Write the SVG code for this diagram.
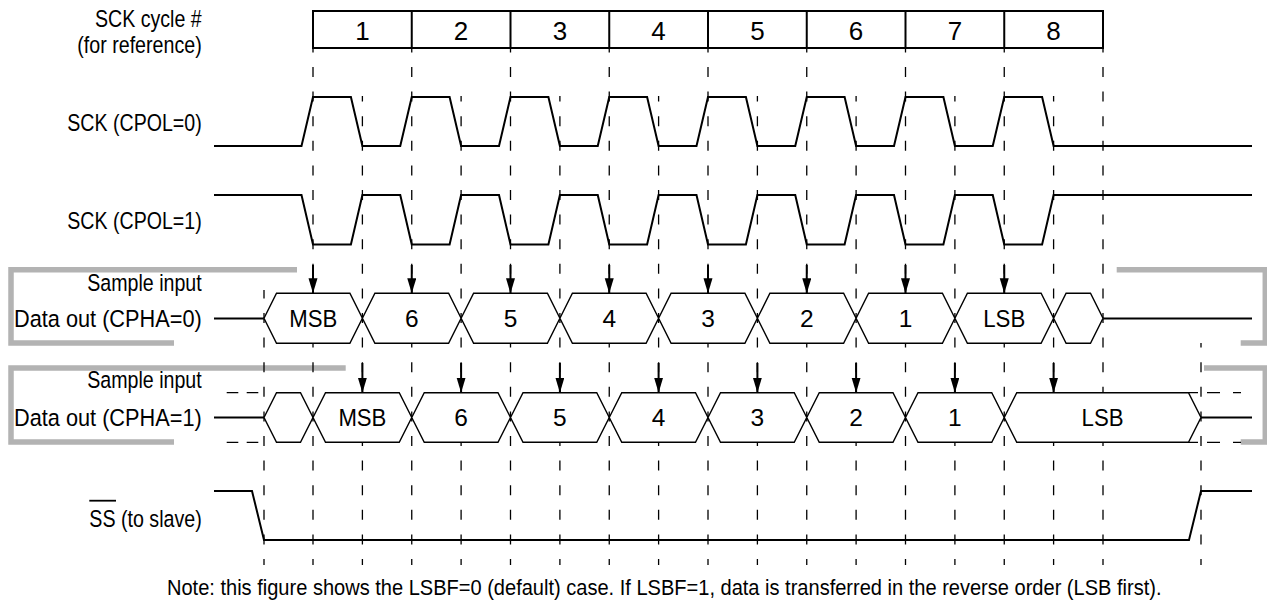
<svg xmlns="http://www.w3.org/2000/svg" width="1267" height="602" viewBox="0 0 1267 602">
<style>
text{font-family:"Liberation Sans Narrow","Liberation Sans",Arial,sans-serif;fill:#000}
.lbl{font-size:24.5px;text-anchor:end}
.num{font-size:26px;text-anchor:middle}
.dat{font-size:24.5px;text-anchor:middle}
.note{font-size:22px}
.grid{stroke:#000;stroke-width:1.3;fill:none;stroke-dasharray:10 14.6}
.hd{stroke:#000;stroke-width:1.3;fill:none}
.wave{stroke:#000;stroke-width:2;fill:none;stroke-linejoin:miter}
.hex{stroke:#000;stroke-width:1.4;fill:#fff;stroke-linejoin:miter}
.br{stroke:#b3b3b3;stroke-width:5.5;fill:none;stroke-linejoin:miter}
.arr{stroke:#000;stroke-width:2;marker-end:url(#ah)}
</style>
<defs>
<marker id="ah" markerUnits="userSpaceOnUse" markerWidth="15" markerHeight="10" refX="15" refY="4.5" orient="auto">
<path d="M0,0 L15,4.5 L0,9 Z" fill="#000"/>
</marker>
</defs>

<g id="brackets">
<path class="br" d="M297,269.8 H11 V343 H174"/>
<path class="br" d="M1116.7,269.8 H1265.3 V343 H1240.7"/>
<path class="br" d="M345.7,368 H11 V442 H174"/>
<path class="br" d="M1204,368 H1265.3 V442 H1240.7"/>
</g>

<g id="guides">
<path class="grid" stroke-dashoffset="5.6" d="M313,48 V565 M411.75,48 V565 M510.5,48 V565 M609.25,48 V565 M708,48 V565 M806.75,48 V565 M905.5,48 V565 M1004.25,48 V565 M1103,48 V565"/>
<path class="grid" stroke-dashoffset="4.4" d="M362.4,96 V565 M461.1,96 V565 M559.9,96 V565 M658.6,96 V565 M757.4,96 V565 M856.1,96 V565 M954.9,96 V565 M1053.6,96 V565"/>
<path class="grid" stroke-dashoffset="1.6" d="M264,290 V565"/>
<path class="grid" stroke-dashoffset="5.4" d="M1201,343 V565"/>
<path class="hd" stroke-dasharray="11.6 8.4" d="M226.7,392.7 H258.3 M226.7,442.3 H258.3"/>
<path class="hd" stroke-dasharray="9 9 13 13 8" d="M1189,392.7 H1241 M1189,442.3 H1241"/>
</g>

<g id="cycles">
<rect x="313" y="11" width="790" height="37" fill="#fff" stroke="#000" stroke-width="2"/>
<path stroke="#000" stroke-width="2" d="M411.75,11 V48 M510.5,11 V48 M609.25,11 V48 M708,11 V48 M806.75,11 V48 M905.5,11 V48 M1004.25,11 V48"/>
<text class="num" x="362.4" y="39.5">1</text>
<text class="num" x="461.1" y="39.5">2</text>
<text class="num" x="559.9" y="39.5">3</text>
<text class="num" x="658.6" y="39.5">4</text>
<text class="num" x="757.4" y="39.5">5</text>
<text class="num" x="856.1" y="39.5">6</text>
<text class="num" x="954.9" y="39.5">7</text>
<text class="num" x="1053.6" y="39.5">8</text>
</g>

<g id="sck-cpol0">
<path class="wave" d="M214,146 H301.5 L313,97 H350.9 L362.4,146 H400.25 L411.75,97 H449.6 L461.1,146 H499 L510.5,97 H548.4 L559.9,146 H597.75 L609.25,97 H647.1 L658.6,146 H696.5 L708,97 H745.9 L757.4,146 H795.25 L806.75,97 H844.6 L856.1,146 H894 L905.5,97 H943.4 L954.9,146 H992.75 L1004.25,97 H1042.1 L1053.6,146 H1252"/>
</g>

<g id="sck-cpol1">
<path class="wave" d="M214,195 H301.5 L313,244.5 H350.9 L362.4,195 H400.25 L411.75,244.5 H449.6 L461.1,195 H499 L510.5,244.5 H548.4 L559.9,195 H597.75 L609.25,244.5 H647.1 L658.6,195 H696.5 L708,244.5 H745.9 L757.4,195 H795.25 L806.75,244.5 H844.6 L856.1,195 H894 L905.5,244.5 H943.4 L954.9,195 H992.75 L1004.25,244.5 H1042.1 L1053.6,195 H1252"/>
</g>

<g id="data-cpha0">
<path class="wave" d="M214,318.5 H264 M1103,318.5 H1252"/>
<polygon class="hex" points="264,318.3 276.5,293.3 349.9,293.3 362.4,318.3 349.9,343.3 276.5,343.3"/>
<polygon class="hex" points="362.4,318.3 374.9,293.3 448.6,293.3 461.1,318.3 448.6,343.3 374.9,343.3"/>
<polygon class="hex" points="461.1,318.3 473.6,293.3 547.4,293.3 559.9,318.3 547.4,343.3 473.6,343.3"/>
<polygon class="hex" points="559.9,318.3 572.4,293.3 646.1,293.3 658.6,318.3 646.1,343.3 572.4,343.3"/>
<polygon class="hex" points="658.6,318.3 671.1,293.3 744.9,293.3 757.4,318.3 744.9,343.3 671.1,343.3"/>
<polygon class="hex" points="757.4,318.3 769.9,293.3 843.6,293.3 856.1,318.3 843.6,343.3 769.9,343.3"/>
<polygon class="hex" points="856.1,318.3 868.6,293.3 942.4,293.3 954.9,318.3 942.4,343.3 868.6,343.3"/>
<polygon class="hex" points="954.9,318.3 967.4,293.3 1041.1,293.3 1053.6,318.3 1041.1,343.3 967.4,343.3"/>
<polygon class="hex" points="1053.6,318.3 1066.1,293.3 1090.5,293.3 1103,318.3 1090.5,343.3 1066.1,343.3"/>
<text class="dat" x="313.2" y="326.9" textLength="48" lengthAdjust="spacingAndGlyphs">MSB</text>
<text class="dat" x="411.75" y="326.9">6</text>
<text class="dat" x="510.5" y="326.9">5</text>
<text class="dat" x="609.25" y="326.9">4</text>
<text class="dat" x="708" y="326.9">3</text>
<text class="dat" x="806.75" y="326.9">2</text>
<text class="dat" x="905.5" y="326.9">1</text>
<text class="dat" x="1004.25" y="326.9" textLength="42" lengthAdjust="spacingAndGlyphs">LSB</text>
</g>

<g id="data-cpha1">
<path class="wave" d="M214,417.6 H264 M1201,417.6 H1252"/>
<polygon class="hex" points="264,417.5 276.5,392.7 300.5,392.7 313,417.5 300.5,442.3 276.5,442.3"/>
<polygon class="hex" points="313,417.5 325.5,392.7 399.25,392.7 411.75,417.5 399.25,442.3 325.5,442.3"/>
<polygon class="hex" points="411.75,417.5 424.25,392.7 498,392.7 510.5,417.5 498,442.3 424.25,442.3"/>
<polygon class="hex" points="510.5,417.5 523,392.7 596.75,392.7 609.25,417.5 596.75,442.3 523,442.3"/>
<polygon class="hex" points="609.25,417.5 621.75,392.7 695.5,392.7 708,417.5 695.5,442.3 621.75,442.3"/>
<polygon class="hex" points="708,417.5 720.5,392.7 794.25,392.7 806.75,417.5 794.25,442.3 720.5,442.3"/>
<polygon class="hex" points="806.75,417.5 819.25,392.7 893,392.7 905.5,417.5 893,442.3 819.25,442.3"/>
<polygon class="hex" points="905.5,417.5 918,392.7 991.75,392.7 1004.25,417.5 991.75,442.3 918,442.3"/>
<polygon class="hex" points="1004.25,417.5 1016.75,392.7 1188.5,392.7 1201,417.5 1188.5,442.3 1016.75,442.3"/>
<text class="dat" x="362.4" y="426" textLength="48" lengthAdjust="spacingAndGlyphs">MSB</text>
<text class="dat" x="461.1" y="426">6</text>
<text class="dat" x="559.9" y="426">5</text>
<text class="dat" x="658.6" y="426">4</text>
<text class="dat" x="757.4" y="426">3</text>
<text class="dat" x="856.1" y="426">2</text>
<text class="dat" x="954.9" y="426">1</text>
<text class="dat" x="1102.6" y="426" textLength="42" lengthAdjust="spacingAndGlyphs">LSB</text>
</g>

<g id="ss">
<path class="wave" stroke-width="1.7" d="M214,491 H252 L264,540 H1189 L1201,491 H1252"/>
</g>

<g id="connectors">
<path class="arr" d="M313,265 V293.3"/>
<path class="arr" d="M411.75,265 V293.3"/>
<path class="arr" d="M510.5,265 V293.3"/>
<path class="arr" d="M609.25,265 V293.3"/>
<path class="arr" d="M708,265 V293.3"/>
<path class="arr" d="M806.75,265 V293.3"/>
<path class="arr" d="M905.5,265 V293.3"/>
<path class="arr" d="M1004.25,265 V293.3"/>
<path class="arr" d="M362.4,363 V392.7"/>
<path class="arr" d="M461.1,363 V392.7"/>
<path class="arr" d="M559.9,363 V392.7"/>
<path class="arr" d="M658.6,363 V392.7"/>
<path class="arr" d="M757.4,363 V392.7"/>
<path class="arr" d="M856.1,363 V392.7"/>
<path class="arr" d="M954.9,363 V392.7"/>
<path class="arr" d="M1053.6,363 V392.7"/>
</g>

<g id="labels">
<text class="lbl" x="201.7" y="27" textLength="106.7" lengthAdjust="spacingAndGlyphs">SCK cycle #</text>
<text class="lbl" x="201.7" y="52.7" textLength="124.4" lengthAdjust="spacingAndGlyphs">(for reference)</text>
<text class="lbl" x="201.7" y="130.7" textLength="134.4" lengthAdjust="spacingAndGlyphs">SCK (CPOL=0)</text>
<text class="lbl" x="201.7" y="229.1" textLength="134.4" lengthAdjust="spacingAndGlyphs">SCK (CPOL=1)</text>
<text class="lbl" x="201.7" y="290.7" textLength="114.4" lengthAdjust="spacingAndGlyphs">Sample input</text>
<text class="lbl" x="201.7" y="326.6" textLength="187.7" lengthAdjust="spacingAndGlyphs">Data out (CPHA=0)</text>
<text class="lbl" x="201.7" y="388" textLength="114.4" lengthAdjust="spacingAndGlyphs">Sample input</text>
<text class="lbl" x="201.7" y="425.6" textLength="187.7" lengthAdjust="spacingAndGlyphs">Data out (CPHA=1)</text>
<text class="lbl" x="201.7" y="526.7" textLength="112.4" lengthAdjust="spacingAndGlyphs">SS (to slave)</text>
<path stroke="#000" stroke-width="1.8" d="M89.3,500.7 H116"/>
</g>

<g id="note">
<text class="note" x="167" y="594.5" textLength="994.5" lengthAdjust="spacingAndGlyphs">Note: this figure shows the LSBF=0 (default) case. If LSBF=1, data is transferred in the reverse order (LSB first).</text>
</g>
</svg>
